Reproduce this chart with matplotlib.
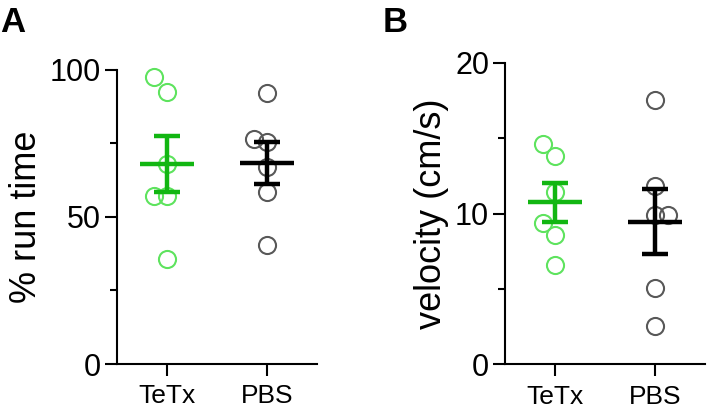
import numpy as np
import matplotlib.pyplot as plt
from matplotlib.ticker import MultipleLocator

plt.rcParams['font.family'] = ['Liberation Sans', 'DejaVu Sans']

# Data
groups = ["TeTx", "PBS"]
run_tetx = [97.5, 92.5, 68, 57, 57, 35.5]
run_pbs = [92, 76.5, 75.5, 67, 58.5, 40.5]
vel_tetx = [14.6, 13.8, 11.45, 9.4, 8.55, 6.6]
vel_pbs = [17.5, 11.85, 9.9, 9.9, 5.05, 2.55]

# horizontal jitter so overlapping circles are visible
run_tetx_dx = [-0.13, 0, 0, -0.13, 0, 0]
run_pbs_dx = [0, -0.13, 0, 0, 0, 0]
vel_tetx_dx = [-0.12, 0, 0, -0.12, 0, 0]
vel_pbs_dx = [0, 0, 0, 0.13, 0, 0]

POINT_COLORS = ["#5ee35e", "#585858"]
LINE_COLORS = ["#12b612", "#000000"]


def column_scatter(ax, series, offsets):
    for i, (vals, dx) in enumerate(zip(series, offsets)):
        vals = np.array(vals)
        xs = i + np.array(dx)
        ax.plot(xs, vals, 'o', ms=12.3, mfc='none', mec=POINT_COLORS[i],
                mew=1.5, zorder=2, clip_on=False)
        mean = vals.mean()
        sem = vals.std(ddof=1) / np.sqrt(len(vals))
        ax.plot([i - 0.27, i + 0.27], [mean, mean], color=LINE_COLORS[i],
                lw=3.2, solid_capstyle='butt', zorder=3)
        ax.errorbar(i, mean, yerr=sem, fmt='none', ecolor=LINE_COLORS[i],
                    elinewidth=3.2, capsize=9.5, capthick=3.2, zorder=3)


def style_axis(ax, ymax, major, minor, ylabel):
    ax.set_xlim(-0.5, 1.5)
    ax.set_ylim(0, ymax)
    ax.set_xticks(range(len(groups)))
    ax.set_xticklabels(groups, fontsize=19)
    ax.yaxis.set_major_locator(MultipleLocator(major))
    ax.yaxis.set_minor_locator(MultipleLocator(minor))
    ax.tick_params(axis='y', which='major', labelsize=22, length=8.5, width=1.5, pad=3)
    ax.tick_params(axis='y', which='minor', length=5, width=1.5)
    ax.tick_params(axis='x', length=8.5, width=1.5, pad=6)
    for s in ['top', 'right']:
        ax.spines[s].set_visible(False)
    for s in ['left', 'bottom']:
        ax.spines[s].set_linewidth(1.5)
    ax.set_ylabel(ylabel, fontsize=26, labelpad=4)


fig = plt.figure(figsize=(7.11, 4.09), dpi=100)
ax1 = fig.add_axes([0.1646, 0.110, 0.2813, 0.720])
ax2 = fig.add_axes([0.7103, 0.109, 0.2813, 0.7377])

column_scatter(ax1, [run_tetx, run_pbs], [run_tetx_dx, run_pbs_dx])
style_axis(ax1, 100, 50, 25, "% run time")

column_scatter(ax2, [vel_tetx, vel_pbs], [vel_tetx_dx, vel_pbs_dx])
style_axis(ax2, 20, 10, 5, "velocity (cm/s)")

fig.text(0.0, 0.985, "A", fontsize=25, fontweight='bold', va='top', ha='left')
fig.text(0.538, 0.985, "B", fontsize=25, fontweight='bold', va='top', ha='left')

fig.savefig("out.png", dpi=100)
